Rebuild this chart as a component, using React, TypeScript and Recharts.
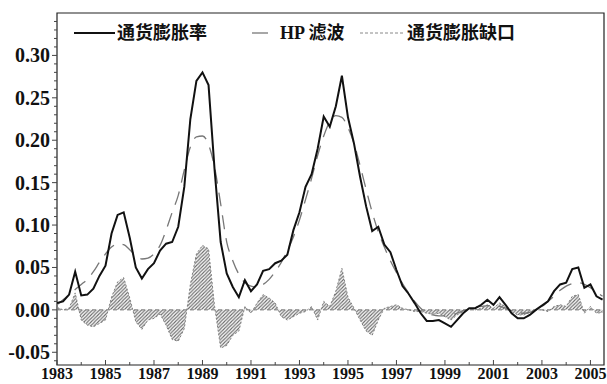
import {
  Area,
  ComposedChart,
  Line,
  ReferenceArea,
  ReferenceLine,
  XAxis,
  YAxis,
} from "recharts";

// quarterly observations, 1983Q1 .. 2005Q3
const startYear = 1983;

const inflation = [
  0.008, 0.01, 0.018, 0.045,
  0.017, 0.018, 0.025, 0.04,
  0.052, 0.09, 0.112, 0.115,
  0.085, 0.05, 0.037, 0.048,
  0.055, 0.07, 0.078, 0.08,
  0.098, 0.145, 0.225, 0.27,
  0.28, 0.265, 0.165, 0.08,
  0.043, 0.027, 0.015, 0.035,
  0.022, 0.03, 0.046, 0.048,
  0.055, 0.058, 0.065, 0.094,
  0.115, 0.145, 0.16, 0.19,
  0.228, 0.216, 0.24, 0.276,
  0.227, 0.196, 0.157, 0.122,
  0.093, 0.098, 0.077, 0.068,
  0.047, 0.028, 0.019, 0.008,
  -0.004, -0.013, -0.013, -0.012,
  -0.016, -0.02, -0.012, -0.004,
  0.002, 0.002, 0.006, 0.012,
  0.006, 0.015, 0.006, -0.004,
  -0.01, -0.01, -0.006, 0.0,
  0.005, 0.01, 0.022, 0.03,
  0.032, 0.048, 0.05, 0.026,
  0.03, 0.016, 0.012,
];

const hpTrend = [
  0.006, 0.012, 0.018, 0.024,
  0.03, 0.036, 0.045, 0.056,
  0.066, 0.074, 0.078, 0.077,
  0.071, 0.064, 0.06, 0.061,
  0.066, 0.076, 0.094, 0.115,
  0.135, 0.165, 0.192, 0.204,
  0.205, 0.195, 0.168, 0.125,
  0.08, 0.058, 0.042, 0.032,
  0.028, 0.027, 0.03, 0.036,
  0.045, 0.056, 0.07, 0.086,
  0.106, 0.13, 0.155, 0.182,
  0.205, 0.222, 0.229, 0.227,
  0.215, 0.196, 0.17, 0.142,
  0.115, 0.092, 0.074, 0.058,
  0.044, 0.031, 0.02, 0.01,
  0.002, -0.003, -0.006, -0.007,
  -0.007, -0.006, -0.004, -0.001,
  0.001, 0.003, 0.004, 0.005,
  0.005, 0.004, 0.002, -0.001,
  -0.003, -0.004, -0.003, 0.0,
  0.004, 0.01, 0.016, 0.023,
  0.028, 0.031, 0.032, 0.03,
  0.026, 0.021, 0.016,
];

const gap = [
  0.003, 0.0, 0.002, 0.02,
  -0.012, -0.018, -0.02, -0.016,
  -0.012, 0.015, 0.033, 0.038,
  0.014, -0.014, -0.023, -0.012,
  -0.01, -0.005, -0.018, -0.035,
  -0.037, -0.022, 0.03, 0.066,
  0.076, 0.072, 0.004, -0.045,
  -0.042, -0.03, -0.025, 0.004,
  -0.004, 0.008, 0.018, 0.014,
  0.008, -0.008, -0.012, -0.008,
  -0.004, -0.002, 0.004, -0.012,
  0.01, 0.004, 0.022, 0.049,
  0.015, 0.002, -0.012, -0.025,
  -0.03, -0.012, 0.002, 0.004,
  0.006, 0.002, 0.0, -0.002,
  -0.002, -0.004, -0.005, -0.004,
  -0.008, -0.012, -0.006, -0.002,
  0.002, 0.0, 0.002, 0.006,
  0.002, 0.008, 0.004, -0.002,
  -0.006, -0.006, -0.003, 0.0,
  0.0, -0.002, 0.004, 0.006,
  0.004, 0.016, 0.018, -0.004,
  0.004, -0.004, -0.003,
];

const xLabels = [1983, 1985, 1987, 1989, 1991, 1993, 1995, 1997, 1999, 2001, 2003, 2005];
const xTicks = Array.from({ length: 23 }, (_, i) => startYear + i);
const yLabels = [-0.05, 0, 0.05, 0.1, 0.15, 0.2, 0.25, 0.3];
const yTicks = Array.from({ length: 41 }, (_, i) => (i - 6) / 100);

const legendNames = ["通货膨胀率", "HP 滤波", "通货膨胀缺口"];

const data = inflation.map((v, i) => ({
  t: startYear + i / 4,
  inflation: v,
  hp: hpTrend[i],
  gap: gap[i],
}));

const X_MAX = 2005.56;
const Y_MIN = -0.065;
const Y_MAX = 0.35;
const font = '"Liberation Serif", "Noto Sans CJK SC", serif';

function YTick(props: any) {
  const { x, y, payload } = props;
  const v = payload.value;
  const major = yLabels.some((l) => Math.abs(l - v) < 1e-9);
  return (
    <g>
      <line x1={x} x2={x - (major ? 5 : 3)} y1={y} y2={y} stroke="#444" strokeWidth={1} />
      {major && (
        <text
          x={x - 7}
          y={y}
          dy="0.35em"
          textAnchor="end"
          fontFamily={font}
          fontWeight="bold"
          fontSize={20}
          fill="#111"
        >
          {v.toFixed(2)}
        </text>
      )}
    </g>
  );
}

function XTick(props: any) {
  const { x, y, payload } = props;
  const major = xLabels.includes(payload.value);
  return (
    <g>
      <line x1={x} x2={x} y1={y} y2={y - (major ? 5 : 3)} stroke="#444" strokeWidth={1} />
      {major && (
        <text
          x={x}
          y={y + 14}
          textAnchor="middle"
          fontFamily={font}
          fontWeight="bold"
          fontSize={16}
          fill="#111"
        >
          {payload.value}
        </text>
      )}
    </g>
  );
}

function LegendRow() {
  const text = {
    position: "absolute" as const,
    top: 22,
    fontFamily: font,
    fontWeight: "bold" as const,
    fontSize: 18,
    lineHeight: "22px",
    color: "#111",
    whiteSpace: "nowrap" as const,
  };
  const sample = (left: number, width: number, dash: string, color: string, w: number) => (
    <svg style={{ position: "absolute", left, top: 28 }} width={width} height={10}>
      <line x1={0} x2={width} y1={5} y2={5} stroke={color} strokeWidth={w} strokeDasharray={dash} />
    </svg>
  );
  return (
    <>
      {sample(74, 41, "", "#111", 2)}
      <span style={{ ...text, left: 117 }}>{legendNames[0]}</span>
      {sample(252, 16, "", "#777", 1.3)}
      <span style={{ ...text, left: 280 }}>{legendNames[1]}</span>
      {sample(360, 44, "3 2", "#888", 1)}
      <span style={{ ...text, left: 407 }}>{legendNames[2]}</span>
    </>
  );
}

export default function App() {
  return (
    <div style={{ position: "absolute", left: 0, top: 0, width: 607, height: 384, background: "#fff" }}>
      <ComposedChart
        width={607}
        height={384}
        data={data}
        margin={{ top: 13, right: 3, bottom: 0, left: 0 }}
      >
        <defs>
          <pattern id="hatch" width="3.5" height="3.5" patternUnits="userSpaceOnUse">
            <path d="M-1,1 L1,-1 M0,3.5 L3.5,0 M2.5,4.5 L4.5,2.5" stroke="#6a6a6a" strokeWidth={1.1} />
          </pattern>
        </defs>
        <XAxis
          dataKey="t"
          type="number"
          domain={[startYear, X_MAX]}
          ticks={xTicks}
          allowDataOverflow
          height={19}
          tickSize={0}
          tickMargin={0}
          tickLine={false}
          axisLine={false}
          tick={<XTick />}
          interval={0}
        />
        <YAxis
          type="number"
          domain={[Y_MIN, Y_MAX]}
          ticks={yTicks}
          allowDataOverflow
          width={57}
          tickSize={0}
          tickMargin={0}
          tickLine={false}
          axisLine={false}
          tick={<YTick />}
          interval={0}
        />
        <ReferenceArea
          x1={startYear}
          x2={X_MAX}
          y1={Y_MIN}
          y2={Y_MAX}
          fill="none"
          fillOpacity={0}
          stroke="#222"
          strokeWidth={1.2}
        />
        <Area
          type="linear"
          dataKey="gap"
          stroke="#808080"
          strokeWidth={1}
          strokeDasharray="2 2"
          fill="url(#hatch)"
          fillOpacity={1}
          isAnimationActive={false}
          dot={false}
          activeDot={false}
        />
        <ReferenceLine y={0} stroke="#777" strokeDasharray="4 3" strokeWidth={1} />
        <Line
          type="monotone"
          dataKey="hp"
          stroke="#777"
          strokeWidth={1.3}
          strokeDasharray="14 9"
          dot={false}
          isAnimationActive={false}
        />
        <Line
          type="linear"
          dataKey="inflation"
          stroke="#111"
          strokeWidth={2}
          dot={false}
          isAnimationActive={false}
        />
      </ComposedChart>
      <LegendRow />
    </div>
  );
}
